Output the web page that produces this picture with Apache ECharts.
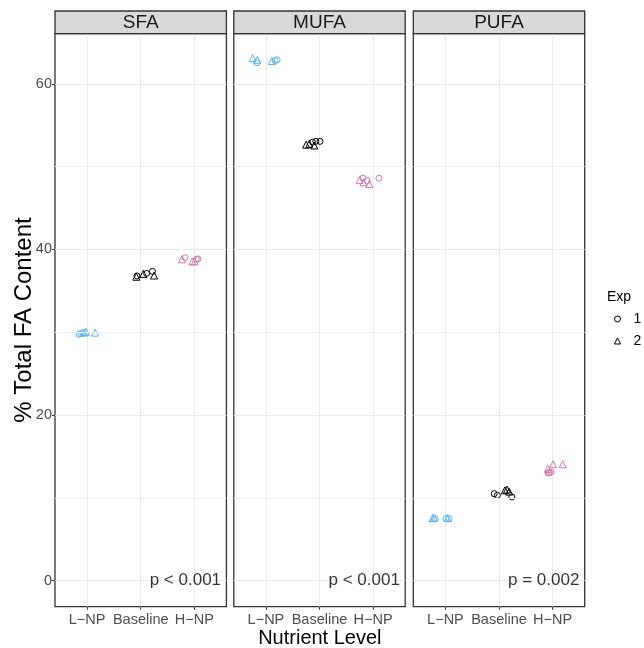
<!DOCTYPE html>
<html>
<head>
<meta charset="utf-8">
<script src="https://cdn.jsdelivr.net/npm/echarts@6/dist/echarts.min.js"></script>
<style>
  html, body { margin: 0; padding: 0; background: #ffffff; }
  #chart { width: 644px; height: 648px; }
</style>
</head>
<body>
<div id="chart"></div>
<script>
// Facets, nutrient levels and per-facet test results
const acids = ['SFA', 'MUFA', 'PUFA'];
const levels = ['L\u2212NP', 'Baseline', 'H\u2212NP'];
const pLabels = ['p < 0.001', 'p < 0.001', 'p = 0.002'];
const yTicks = [0, 20, 40, 60];
const yMinorTicks = [10, 30, 50];
const expNames = ['1', '2'];

// Points: [level index, jittered x position, % of total FA]
const sfaExp1 = [
  [0, 0.85, 29.75], [0, 0.88, 29.85], [0, 0.92, 29.9],
  [1, 1.93, 36.8], [1, 2.11, 37.1], [1, 2.22, 37.35],
  [2, 2.83, 39.0], [2, 3.04, 38.8], [2, 3.07, 38.85]
];
const sfaExp2 = [
  [0, 0.94, 29.95], [0, 0.98, 30.05], [0, 1.15, 29.95],
  [1, 1.92, 36.7], [1, 2.05, 37.05], [1, 2.25, 36.85],
  [2, 2.77, 38.8], [2, 2.96, 38.55], [2, 3.01, 38.55]
];
const mufaExp1 = [
  [0, 0.83, 62.55], [0, 1.17, 62.8], [0, 1.21, 62.9],
  [1, 1.87, 52.95], [1, 1.93, 53.05], [1, 2.01, 53.05],
  [2, 2.81, 48.6], [2, 2.89, 48.3], [2, 3.11, 48.6]
];
const mufaExp2 = [
  [0, 0.75, 63.1], [0, 0.84, 62.9], [0, 1.11, 62.75],
  [1, 1.75, 52.65], [1, 1.81, 52.75], [1, 1.90, 52.55],
  [2, 2.75, 48.4], [2, 2.82, 48.1], [2, 2.93, 47.9]
];
const pufaExp1 = [
  [0, 0.81, 7.45], [0, 1.01, 7.5], [0, 1.07, 7.5],
  [1, 1.91, 10.5], [1, 1.97, 10.3], [1, 2.24, 10.1],
  [2, 2.92, 13.0], [2, 2.94, 13.05], [2, 2.97, 13.1]
];
const pufaExp2 = [
  [0, 0.76, 7.55], [0, 0.79, 7.6], [0, 1.04, 7.55],
  [1, 2.11, 10.9], [1, 2.15, 11.0], [1, 2.19, 10.75],
  [2, 2.91, 13.5], [2, 3.01, 14.05], [2, 3.19, 14.05]
];
const exp1ByAcid = [sfaExp1, mufaExp1, pufaExp1];
const exp2ByAcid = [sfaExp2, mufaExp2, pufaExp2];

// Styling
const levelColors = ['#56B4E9', '#000000', '#CC79A7'];
const FONT = '"Liberation Sans", Arial, Helvetica, sans-serif';
const panelLeft = [55, 233.8, 413.3];
const panelWidth = 171.4;
const panelTop = 33.7;
const panelBottom = 606.7;
const stripTop = 11;

const chart = echarts.init(document.getElementById('chart'), null, { renderer: 'canvas' });

const grids = [], xAxes = [], yAxes = [], series = [], graphics = [];

acids.forEach((acid, i) => {
  grids.push({
    left: panelLeft[i], top: panelTop, width: panelWidth, height: panelBottom - panelTop,
    show: true, borderColor: '#333333', borderWidth: 1.3, backgroundColor: '#ffffff'
  });
  xAxes.push({
    type: 'value', gridIndex: i, min: 0.4, max: 3.6, position: 'bottom',
    axisLine: { show: false, onZero: false },
    axisTick: { show: true, customValues: [1, 2, 3], length: 3, lineStyle: { color: '#333333', width: 1 } },
    axisLabel: {
      customValues: [1, 2, 3], margin: 6, color: '#4D4D4D', fontSize: 14.5, fontFamily: FONT,
      formatter: v => levels[Math.round(v) - 1]
    },
    splitLine: { show: true, lineStyle: { color: '#EBEBEB', width: 1.1 } }
  });
  yAxes.push({
    type: 'value', gridIndex: i, min: -3.15, max: 66.05, position: 'left',
    axisLine: { show: false, onZero: false },
    axisTick: { show: i === 0, customValues: yTicks, length: 3, lineStyle: { color: '#333333', width: 1 } },
    axisLabel: { show: i === 0, customValues: yTicks, margin: 3, color: '#4D4D4D', fontSize: 14.5, fontFamily: FONT },
    splitLine: { show: true, lineStyle: { color: '#EBEBEB', width: 1.1 } }
  });

  // minor horizontal grid lines
  series.push({
    type: 'scatter', xAxisIndex: i, yAxisIndex: i, data: [], silent: true, z: 1,
    markLine: {
      silent: true, symbol: ['none', 'none'], label: { show: false }, animation: false,
      lineStyle: { color: '#EFEFEF', width: 1, type: 'solid' },
      data: yMinorTicks.map(v => ({ yAxis: v }))
    }
  });

  const toItems = arr => arr.map(d => ({
    value: [d[1], d[2]],
    itemStyle: { borderColor: levelColors[d[0]] }
  }));

  series.push({
    type: 'scatter', name: expNames[0], xAxisIndex: i, yAxisIndex: i,
    symbol: 'circle', symbolSize: 6, z: 3,
    itemStyle: { color: 'rgba(0,0,0,0)', borderWidth: 1, opacity: 1 },
    data: toItems(exp1ByAcid[i])
  });
  series.push({
    type: 'scatter', name: expNames[1], xAxisIndex: i, yAxisIndex: i,
    symbol: 'triangle', symbolSize: 7, z: 3,
    itemStyle: { color: 'rgba(0,0,0,0)', borderWidth: 1, opacity: 1 },
    data: toItems(exp2ByAcid[i])
  });

  // test result in the lower right corner of each panel
  series.push({
    type: 'scatter', xAxisIndex: i, yAxisIndex: i, silent: true, symbolSize: 0, z: 4,
    data: [[3.5, 0]],
    label: {
      show: true, position: 'left', distance: 0, color: '#000000',
      fontSize: 17, fontFamily: FONT, formatter: () => pLabels[i]
    }
  });

  // facet strip
  graphics.push({
    type: 'rect', silent: true, z: 10,
    shape: { x: panelLeft[i], y: stripTop, width: panelWidth, height: panelTop - stripTop },
    style: { fill: '#D9D9D9', stroke: '#333333', lineWidth: 1.3 }
  });
  graphics.push({
    type: 'text', silent: true, z: 11,
    x: panelLeft[i] + panelWidth / 2, y: (stripTop + panelTop) / 2 + 0.5,
    style: { text: acid, fill: '#1A1A1A', fontSize: 19, fontFamily: FONT, align: 'center', verticalAlign: 'middle' }
  });
});

// axis titles
graphics.push({
  type: 'text', silent: true, x: 24, y: 320, rotation: Math.PI / 2,
  style: { text: '% Total FA Content', fill: '#000000', fontSize: 24, fontFamily: FONT, align: 'center', verticalAlign: 'middle' }
});
graphics.push({
  type: 'text', silent: true, x: (panelLeft[0] + panelLeft[2] + panelWidth) / 2, y: 638,
  style: { text: 'Nutrient Level', fill: '#000000', fontSize: 20, fontFamily: FONT, align: 'center', verticalAlign: 'middle' }
});
// legend title
graphics.push({
  type: 'text', silent: true, x: 607, y: 297,
  style: { text: 'Exp', fill: '#000000', fontSize: 14, fontFamily: FONT, align: 'left', verticalAlign: 'middle' }
});

chart.setOption({
  animation: false,
  backgroundColor: '#ffffff',
  grid: grids,
  xAxis: xAxes,
  yAxis: yAxes,
  legend: {
    orient: 'vertical', left: 609, top: 307, itemWidth: 6, itemHeight: 6, itemGap: 8,
    selectedMode: false,
    textStyle: { fontSize: 14, color: '#000000', fontFamily: FONT, padding: [0, 0, 0, 8] },
    data: [
      { name: expNames[0], icon: 'circle', itemStyle: { color: 'rgba(0,0,0,0)', borderColor: '#000000', borderWidth: 1 } },
      { name: expNames[1], icon: 'triangle', itemStyle: { color: 'rgba(0,0,0,0)', borderColor: '#000000', borderWidth: 1 } }
    ]
  },
  graphic: graphics,
  series: series
});
</script>
</body>
</html>
